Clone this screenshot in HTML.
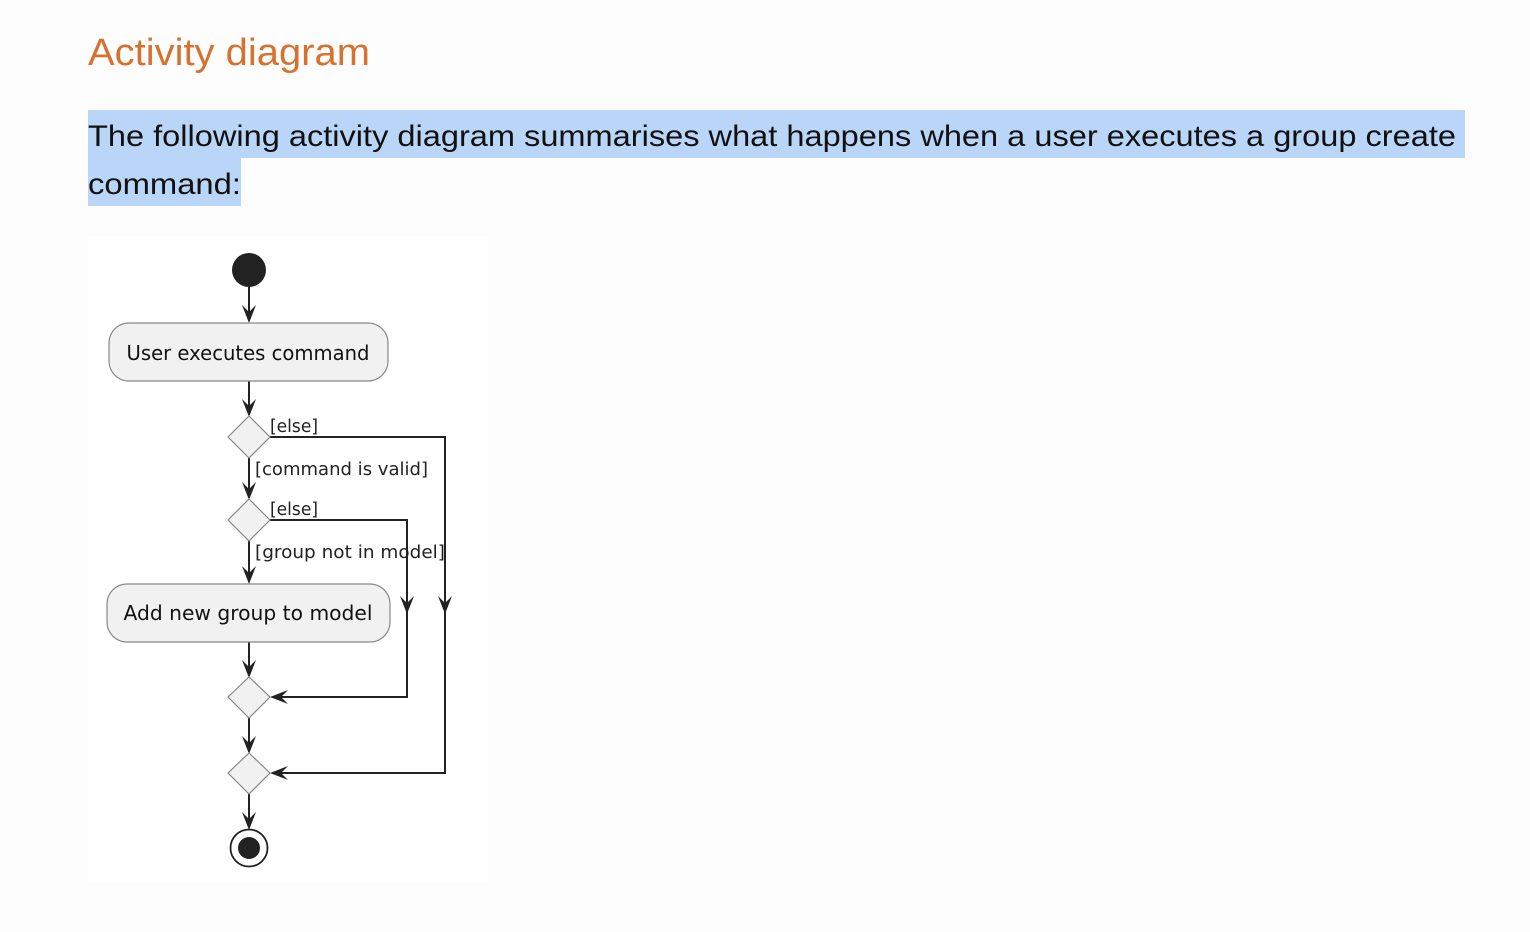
<!DOCTYPE html>
<html><head><meta charset="utf-8"><style>
html,body{margin:0;padding:0;background:#fdfdfd;}
svg{display:block;}
</style></head><body>
<svg width="1530" height="932" viewBox="0 0 1530 932" xmlns="http://www.w3.org/2000/svg" font-family="Liberation Sans, sans-serif">
<rect width="1530" height="932" fill="#fdfdfd"/>
<text x="88" y="65" font-size="38" fill="#d6712f" textLength="282" lengthAdjust="spacingAndGlyphs">Activity diagram</text>
<rect x="88" y="110" width="1377" height="48" fill="#b9d5f8"/>
<rect x="88" y="158" width="153" height="48" fill="#b9d5f8"/>
<text x="88" y="146" font-size="30" fill="#111" textLength="1368" lengthAdjust="spacingAndGlyphs">The following activity diagram summarises what happens when a user executes a group create</text>
<text x="88" y="194" font-size="30" fill="#111" textLength="153" lengthAdjust="spacingAndGlyphs">command:</text>
<rect x="88" y="236" width="400" height="646" fill="#ffffff"/>
<g stroke="#222" stroke-width="2" fill="none">
<line x1="249" y1="287" x2="249" y2="318"/>
<line x1="249" y1="381" x2="249" y2="412"/>
<line x1="249" y1="458" x2="249" y2="495"/>
<line x1="249" y1="541" x2="249" y2="579"/>
<line x1="249" y1="642" x2="249" y2="673"/>
<line x1="249" y1="718" x2="249" y2="749"/>
<line x1="249" y1="794" x2="249" y2="825"/>
<polyline points="270,437 445,437 445,773 274,773"/>
<polyline points="270,520 407,520 407,697 274,697"/>
</g>
<g fill="#222">
<path d="M249,323 l-7,-18 l7,7 l7,-7z"/>
<path d="M249,417 l-7,-18 l7,7 l7,-7z"/>
<path d="M249,500 l-7,-18 l7,7 l7,-7z"/>
<path d="M249,584 l-7,-18 l7,7 l7,-7z"/>
<path d="M249,678 l-7,-18 l7,7 l7,-7z"/>
<path d="M249,754 l-7,-18 l7,7 l7,-7z"/>
<path d="M249,830 l-7,-18 l7,7 l7,-7z"/>
<path d="M445,614 l-7,-18 l7,7 l7,-7z"/>
<path d="M407,614 l-7,-18 l7,7 l7,-7z"/>
<path d="M270,697 l18,-7 l-7,7 l7,7z"/>
<path d="M270,773 l18,-7 l-7,7 l7,7z"/>
</g>
<circle cx="249" cy="270" r="17" fill="#222"/>
<rect x="109" y="323" width="279" height="58" rx="20" fill="#f1f1f1" stroke="#888" stroke-width="1.2"/>
<text x="248" y="360" font-size="20.5" text-anchor="middle" fill="#111" font-family="DejaVu Sans, sans-serif" textLength="243" lengthAdjust="spacingAndGlyphs">User executes command</text>
<rect x="107" y="584" width="283" height="58" rx="20" fill="#f1f1f1" stroke="#888" stroke-width="1.2"/>
<text x="248" y="620" font-size="20.5" text-anchor="middle" fill="#111" font-family="DejaVu Sans, sans-serif" textLength="249" lengthAdjust="spacingAndGlyphs">Add new group to model</text>
<g fill="#f1f1f1" stroke="#888" stroke-width="1.2">
<polygon points="249,416 270,437 249,458 228,437"/>
<polygon points="249,499 270,520 249,541 228,520"/>
<polygon points="249,677 270,697 249,718 228,697"/>
<polygon points="249,753 270,773 249,794 228,773"/>
</g>
<g font-family="DejaVu Sans, sans-serif" font-size="17.5" fill="#222">
<text x="270" y="432" textLength="48" lengthAdjust="spacingAndGlyphs">[else]</text>
<text x="255" y="475" textLength="173" lengthAdjust="spacingAndGlyphs">[command is valid]</text>
<text x="270" y="515" textLength="48" lengthAdjust="spacingAndGlyphs">[else]</text>
<text x="255" y="558" textLength="190" lengthAdjust="spacingAndGlyphs">[group not in model]</text>
</g>
<circle cx="249" cy="848" r="18.5" fill="#fff" stroke="#222" stroke-width="1.8"/>
<circle cx="249" cy="848" r="11" fill="#222"/>
</svg>
</body></html>
